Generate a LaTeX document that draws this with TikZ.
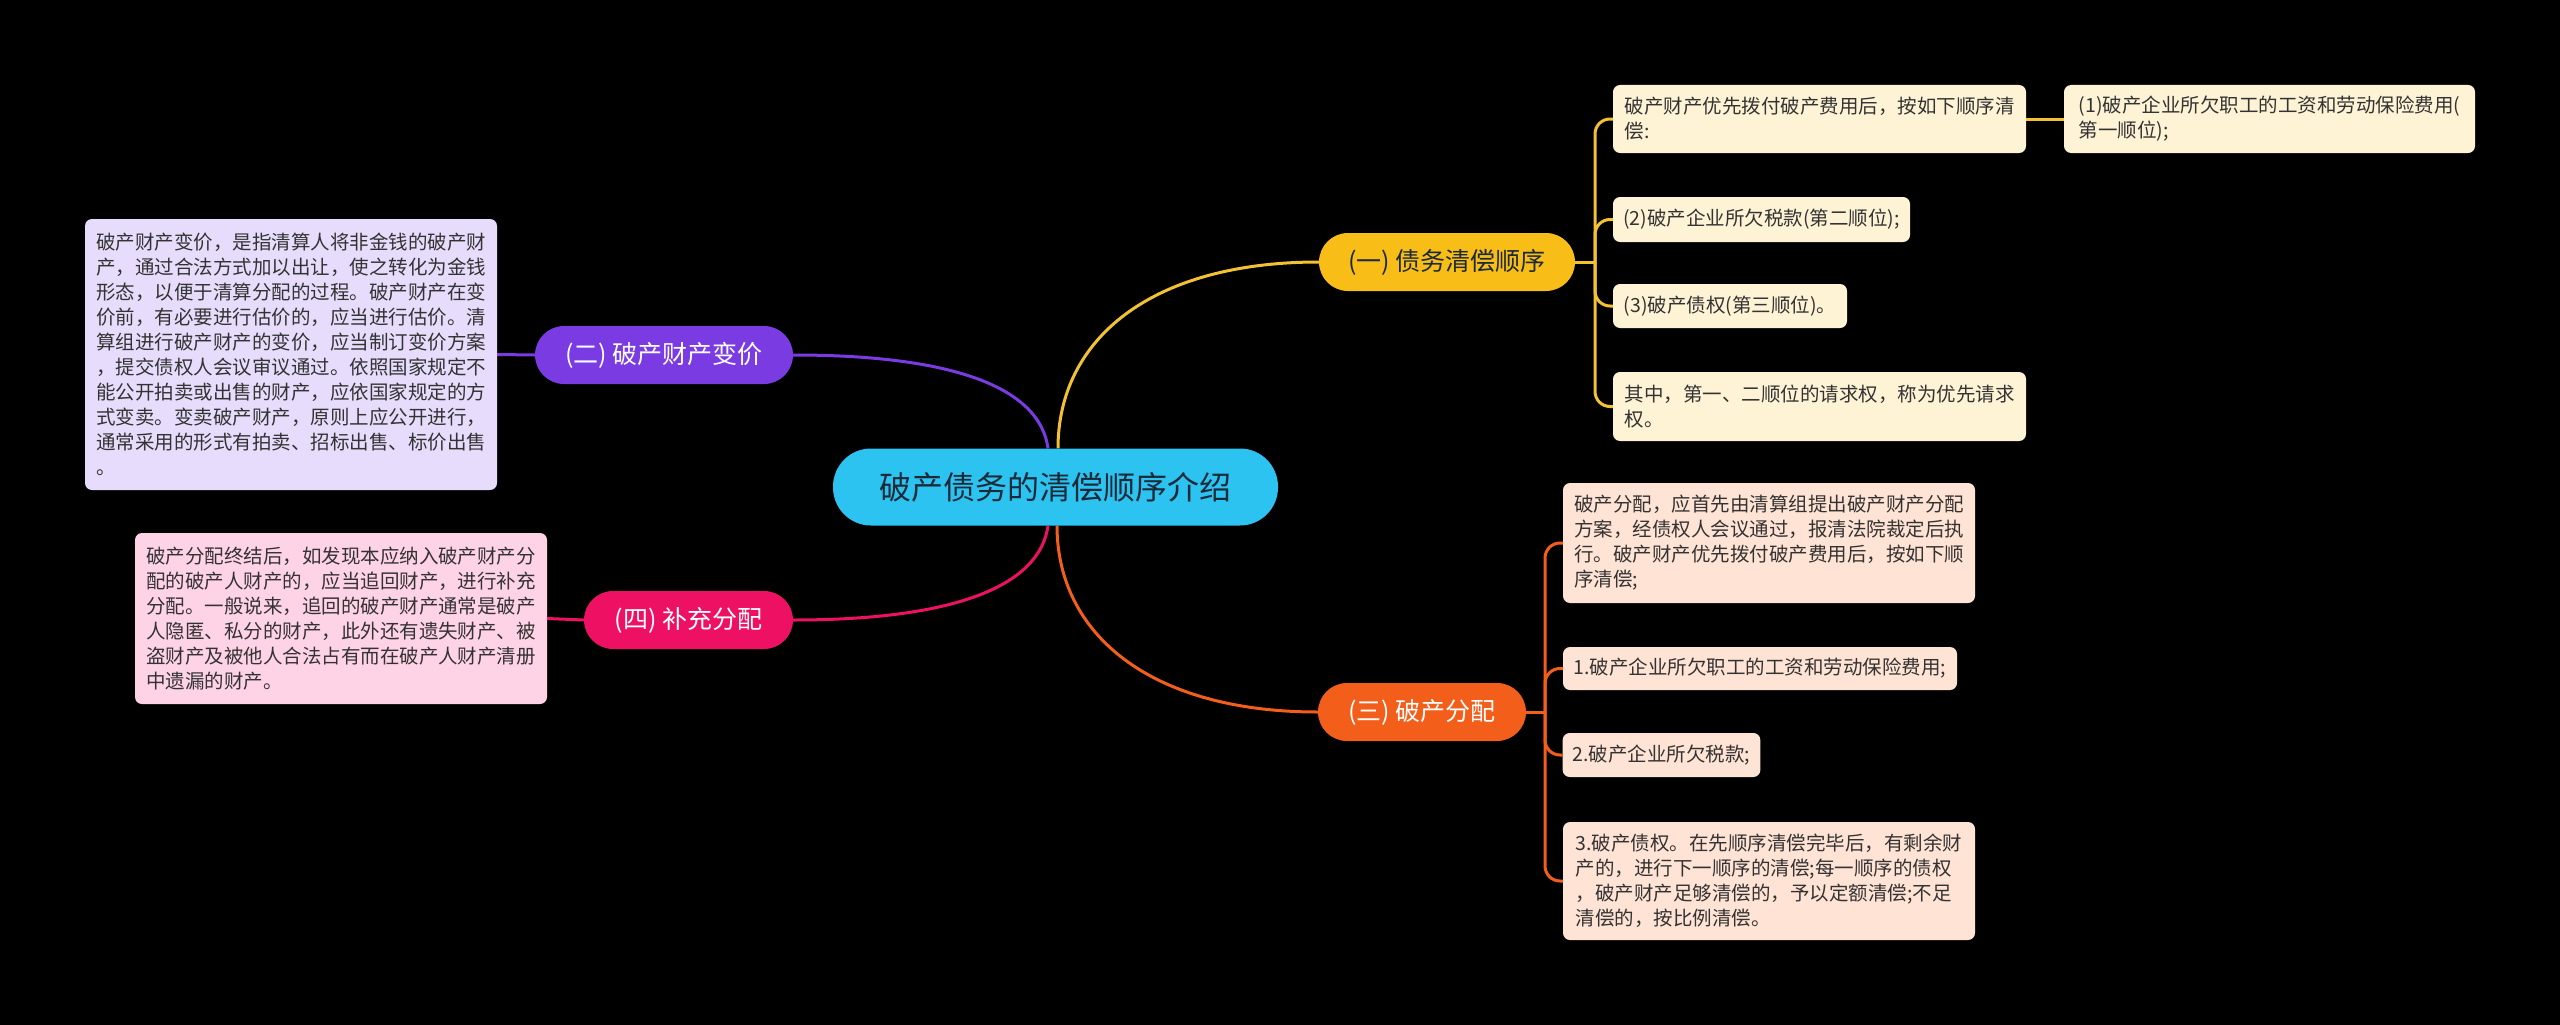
\documentclass[tikz,border=0pt]{standalone}
\usepackage{fontspec}
\setmainfont{Noto Sans CJK SC}
\definecolor{bgc}{HTML}{000000}
\definecolor{cen}{HTML}{2DC3F1}
\definecolor{centxt}{HTML}{1B2A38}
\definecolor{yel}{HTML}{F8BD17}
\definecolor{yelline}{HTML}{F2C233}
\definecolor{pur}{HTML}{7B3BE3}
\definecolor{pnk}{HTML}{EE1163}
\definecolor{org}{HTML}{F35E1B}
\definecolor{yleaf}{HTML}{FFF3D6}
\definecolor{oleaf}{HTML}{FFE3D4}
\definecolor{pleaf}{HTML}{E7DCFB}
\definecolor{kleaf}{HTML}{FFD3E6}
\definecolor{leaftxt}{HTML}{333333}
\pgfdeclarelayer{back}
\pgfdeclarelayer{bg}
\pgfsetlayers{back,bg,main}
\tikzset{
  leaf/.style={rounded corners=7pt, align=left, inner xsep=10pt, inner ysep=0pt,
    font=\fontsize{19.5}{25}\selectfont, text=leaftxt},
  branch/.style={rounded corners=29pt, minimum height=58pt, inner xsep=0pt,
    font=\fontsize{25}{30}\selectfont},
  conn/.style={line width=3pt},
}
\begin{document}
\begin{tikzpicture}[x=1pt,y=-1pt]
\begin{pgfonlayer}{back}
\fill[bgc] (0,0) rectangle (2560,1025);
\end{pgfonlayer}
\useasboundingbox (0,0) rectangle (2560,1025);

% central
\node[fill=cen, rounded corners=38pt, minimum width=445pt, minimum height=77pt,
  font=\fontsize{32}{36}\selectfont, text=centxt] (c) at (1055.5,487) {破产债务的清偿顺序介绍};

% branches
\node[branch, fill=yel, minimum width=256pt, text=centxt] (b1) at (1447,262) {(一) 债务清偿顺序};
\node[branch, fill=pur, minimum width=258pt, text=white] (b2) at (664,355) {(二) 破产财产变价};
\node[branch, fill=org, minimum width=208pt, text=white] (b3) at (1422,712) {(三) 破产分配};
\node[branch, fill=pnk, minimum width=209pt, text=white] (b4) at (688.5,620) {(四) 补充分配};

% yellow leaves
\node[leaf, fill=yleaf, minimum width=413pt, minimum height=68pt] (y1) at (1819.5,119)
  {破产财产优先拨付破产费用后，按如下顺序清\\偿:};
\node[leaf, fill=yleaf, minimum width=411pt, minimum height=68pt] (y1a) at (2269.5,119)
  {(1)破产企业所欠职工的工资和劳动保险费用(\\第一顺位);};
\node[leaf, fill=yleaf, minimum width=297pt, minimum height=45pt] (y2) at (1761.5,219.5)
  {(2)破产企业所欠税款(第二顺位);};
\node[leaf, fill=yleaf, minimum width=234pt, minimum height=44pt] (y3) at (1730,306)
  {(3)破产债权(第三顺位)。};
\node[leaf, fill=yleaf, minimum width=413pt, minimum height=69pt] (y4) at (1819.5,406.5)
  {其中，第一、二顺位的请求权，称为优先请求\\权。};

% orange leaves
\node[leaf, fill=oleaf, minimum width=412pt, minimum height=120pt] (o1) at (1769,543)
  {破产分配，应首先由清算组提出破产财产分配\\方案，经债权人会议通过，报清法院裁定后执\\行。破产财产优先拨付破产费用后，按如下顺\\序清偿;};
\node[leaf, fill=oleaf, minimum width=394pt, minimum height=43pt] (o2) at (1760,668.5)
  {1.破产企业所欠职工的工资和劳动保险费用;};
\node[leaf, fill=oleaf, minimum width=197pt, minimum height=44pt] (o3) at (1661.5,755)
  {2.破产企业所欠税款;};
\node[leaf, fill=oleaf, minimum width=412pt, minimum height=118pt] (o4) at (1769,881)
  {3.破产债权。在先顺序清偿完毕后，有剩余财\\产的，进行下一顺序的清偿;每一顺序的债权\\，破产财产足够清偿的，予以定额清偿;不足\\清偿的，按比例清偿。};

% purple leaf
\node[leaf, fill=pleaf, minimum width=412pt, minimum height=271pt] (p1) at (291,354.5)
  {破产财产变价，是指清算人将非金钱的破产财\\产，通过合法方式加以出让，使之转化为金钱\\形态，以便于清算分配的过程。破产财产在变\\价前，有必要进行估价的，应当进行估价。清\\算组进行破产财产的变价，应当制订变价方案\\，提交债权人会议审议通过。依照国家规定不\\能公开拍卖或出售的财产，应依国家规定的方\\式变卖。变卖破产财产，原则上应公开进行，\\通常采用的形式有拍卖、招标出售、标价出售\\。};

% pink leaf
\node[leaf, fill=kleaf, minimum width=412pt, minimum height=171pt] (k1) at (341,618.5)
  {破产分配终结后，如发现本应纳入破产财产分\\配的破产人财产的，应当追回财产，进行补充\\分配。一般说来，追回的破产财产通常是破产\\人隐匿、私分的财产，此外还有遗失财产、被\\盗财产及被他人合法占有而在破产人财产清册\\中遗漏的财产。};

\coordinate (hy) at (1595,262);
\coordinate (ho) at (1545,712);

\begin{pgfonlayer}{bg}
% central to branches
\draw[conn, yelline] ([xshift=2.5pt]c.north) .. controls (1058,340) and (1150,262) .. (b1.west);
\draw[conn, pur] ([xshift=-7.5pt]c.north) .. controls (1040,390) and (960,355) .. (b2.east);
\draw[conn, org] ([xshift=1.5pt]c.south) .. controls (1057,634) and (1150,712) .. (b3.west);
\draw[conn, pnk] ([xshift=-7.5pt]c.south) .. controls (1040,584) and (960,620) .. (b4.east);
% yellow bracket
\draw[conn, yelline] (b1.east) -- (hy);
\foreach \n in {y1,y2,y3,y4} \draw[conn, yelline, rounded corners=15pt] (hy) |- (\n.west);
\draw[conn, yelline] (y1.east) -- (y1a.west);
% orange bracket
\draw[conn, org] (b3.east) -- (ho);
\foreach \n in {o1,o2,o3,o4} \draw[conn, org, rounded corners=15pt] (ho) |- (\n.west);
% left
\draw[conn, pur] (b2.west) -- (p1.east);
\draw[conn, pnk] (b4.west) -- (k1.east);
\end{pgfonlayer}
\end{tikzpicture}
\end{document}
